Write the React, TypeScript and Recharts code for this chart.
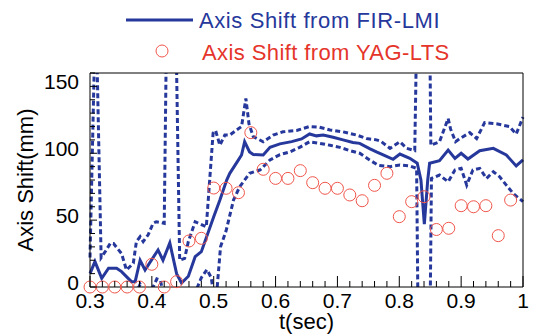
import {
  ComposedChart, Line, Scatter, XAxis, YAxis,
} from 'recharts';

// [t (sec), axis shift (mm)]
const firPoints: [number, number][] = [
  [0.300, 10], [0.308, 19], [0.319, 6.5], [0.330, 14], [0.343, 14], [0.351, 11.5],
  [0.367, 4], [0.373, 4], [0.381, 20], [0.389, 12.7], [0.410, 27.7], [0.418, 20],
  [0.429, 33], [0.440, 10], [0.448, 3], [0.459, 8], [0.470, 22.7], [0.480, 26.4],
  [0.500, 52.6], [0.510, 65], [0.521, 80], [0.526, 85], [0.540, 95], [0.545, 98.7],
  [0.550, 108.6], [0.558, 101], [0.564, 99], [0.580, 98.7], [0.591, 104.4], [0.607, 107],
  [0.626, 108.7], [0.642, 110.7], [0.655, 114.4], [0.666, 113], [0.677, 113.6], [0.693, 112],
  [0.709, 110], [0.725, 108], [0.736, 107.4], [0.752, 103.5], [0.763, 101], [0.774, 98.7],
  [0.790, 95.5], [0.801, 99.4], [0.817, 96.2], [0.829, 92.5], [0.835, 80], [0.8405, 47],
  [0.846, 80], [0.849, 92.5], [0.865, 94.4], [0.879, 102.4], [0.890, 96.2], [0.900, 100],
  [0.911, 95.7], [0.930, 101.9], [0.952, 103.7], [0.973, 98.7], [0.989, 90.5], [1.000, 95],
];

const firUpper: [number, number][] = [
  [0.300, 22], [0.3093, 215], [0.318, 22], [0.324, 26], [0.333, 32.7], [0.338, 32.5],
  [0.351, 25], [0.359, 12.7], [0.370, 17.7], [0.375, 34], [0.381, 37.6], [0.386, 34],
  [0.394, 39], [0.402, 47.6], [0.407, 48.8], [0.420, 47.6], [0.428, 360], [0.433, 360],
  [0.445, 20], [0.453, 21.4], [0.459, 34], [0.470, 48.8], [0.476, 47.6], [0.488, 45],
  [0.499, 115], [0.503, 117], [0.510, 106], [0.518, 113.6], [0.526, 113.6], [0.537, 117.4],
  [0.545, 120], [0.552, 141], [0.557, 122], [0.564, 112.4], [0.580, 108.6], [0.596, 113.6],
  [0.612, 116], [0.634, 117], [0.655, 120], [0.671, 119.5], [0.688, 117.4], [0.709, 116],
  [0.731, 113.6], [0.747, 111], [0.763, 110], [0.770, 109], [0.785, 103.7], [0.801, 108.6],
  [0.812, 103.7], [0.825, 102], [0.832, 300], [0.847, 300], [0.851, 106], [0.865, 108.6],
  [0.879, 126], [0.883, 118], [0.891, 108.6], [0.898, 111], [0.914, 115.4], [0.925, 111],
  [0.938, 122.9], [0.957, 122], [0.978, 120], [0.989, 114.4], [1.000, 127],
];

const firLower: [number, number][] = [
  [0.300, -3], [0.309, -15], [0.318, -10], [0.333, -5], [0.351, -3], [0.367, -8],
  [0.377, -2], [0.381, 2], [0.386, -3], [0.397, -5], [0.408, 6], [0.414, 5],
  [0.420, -10], [0.430, -20], [0.445, -15], [0.460, -10], [0.472, -2], [0.480, 7],
  [0.489, 13], [0.496, 7], [0.503, -15], [0.511, 30], [0.520, 42], [0.532, 65],
  [0.542, 75], [0.558, 85], [0.575, 87.5], [0.591, 95], [0.607, 99], [0.623, 101],
  [0.639, 104.4], [0.655, 108.6], [0.671, 107.4], [0.688, 106], [0.704, 104.4], [0.720, 102],
  [0.736, 100], [0.752, 95], [0.766, 91], [0.785, 90], [0.801, 91.2], [0.817, 90.5],
  [0.828, 88.7], [0.833, -150], [0.847, -150], [0.852, 81.2], [0.865, 83.7], [0.879, 78.7],
  [0.890, 87.5], [0.900, 88.7], [0.909, 76.2], [0.919, 87.5], [0.930, 88.7], [0.941, 81.2],
  [0.952, 86.2], [0.962, 82.5], [0.973, 76.2], [0.984, 70], [1.000, 63.8],
];

const yagPoints: [number, number][] = [
  [0.30, 0], [0.32, 0], [0.34, 0], [0.36, 0], [0.38, 0], [0.40, 17], [0.42, 0],
  [0.44, 4], [0.46, 34.4], [0.48, 36.4], [0.50, 74], [0.52, 73.8], [0.54, 70.5],
  [0.56, 115.4], [0.58, 88], [0.60, 81.2], [0.62, 81.2], [0.64, 87], [0.66, 78],
  [0.68, 73.8], [0.70, 73.8], [0.72, 68.8], [0.74, 64.5], [0.76, 76], [0.78, 85],
  [0.80, 52.6], [0.82, 63.8], [0.84, 67.5], [0.86, 43], [0.88, 43.9], [0.90, 60.8],
  [0.92, 60], [0.94, 60.8], [0.96, 38.4], [0.98, 65],
];

const xTicks = Array.from({ length: 36 }, (_, i) => Math.round((0.3 + i * 0.02) * 100) / 100);
const yTicks = Array.from({ length: 17 }, (_, i) => i * 10);

const BLUE = '#26389b';
const RED_MARK = '#f0564b';
const RED_TEXT = '#e5352b';
const FONT = "'Liberation Sans', Arial, sans-serif";

const toRows = (pts: [number, number][]) => pts.map(([t, v]) => ({ t, v }));

const isMajorX = (v: number) => Math.abs(v * 10 - Math.round(v * 10)) < 1e-6;
const isMajorY = (v: number) => v % 50 === 0;

function BottomTick({ x, y, payload }: any) {
  const major = isMajorX(payload.value);
  return (
    <g>
      <line x1={x} y1={y} x2={x} y2={y - (major ? 11 : 6)} stroke="#000" />
      {major && (
        <text x={x} y={y + 21} textAnchor="middle" fontSize={21} fontFamily={FONT} fill="#000">
          {String(payload.value)}
        </text>
      )}
    </g>
  );
}

function TopTick({ x, y, payload }: any) {
  const major = isMajorX(payload.value);
  return <line x1={x} y1={y} x2={x} y2={y + (major ? 11 : 6)} stroke="#000" />;
}

function LeftTick({ x, y, payload }: any) {
  const major = isMajorY(payload.value);
  return (
    <g>
      <line x1={x} y1={y} x2={x + (major ? 7 : 5)} y2={y} stroke="#000" />
      {major && (
        <text x={x - 11} y={y + 3} textAnchor="end" fontSize={21} fontFamily={FONT} fill="#000">
          {String(payload.value)}
        </text>
      )}
    </g>
  );
}

function RightTick({ x, y, payload }: any) {
  const major = isMajorY(payload.value);
  return <line x1={x} y1={y} x2={x - (major ? 7 : 5)} y2={y} stroke="#000" />;
}

const ring = (props: any) => (
  <circle cx={props.cx} cy={props.cy} r={6} fill="none" stroke={RED_MARK} strokeWidth={1} />
);

export default function App() {
  return (
    <div style={{ position: 'absolute', left: 0, top: 0, width: 533, height: 335, background: '#fff' }}>
      <ComposedChart width={533} height={335} margin={{ top: 72, right: 9, bottom: 0, left: 0 }}>
        <XAxis
          dataKey="t" type="number" domain={[0.3, 1]} ticks={xTicks} interval={0}
          height={48} tickSize={0} tickMargin={0} tickLine={false} tick={BottomTick}
          axisLine={{ stroke: '#000' }}
          label={{ value: 't(sec)', position: 'insideBottom', offset: 6, fontSize: 22, fill: '#000', fontFamily: FONT }}
        />
        <XAxis
          xAxisId="top" orientation="top" dataKey="t" type="number" domain={[0.3, 1]}
          ticks={xTicks} interval={0} height={1} tickSize={0} tickMargin={0} tickLine={false}
          tick={TopTick} axisLine={{ stroke: '#000' }}
        />
        <YAxis
          type="number" domain={[0, 160]} allowDataOverflow ticks={yTicks} interval={0}
          width={90} tickSize={0} tickMargin={0} tickLine={false} tick={LeftTick}
          axisLine={{ stroke: '#000' }}
          label={{ value: 'Axis Shift(mm)', angle: -90, position: 'center', dx: -20, fontSize: 22, fill: '#000', fontFamily: FONT }}
        />
        <YAxis
          yAxisId="right" orientation="right" type="number" domain={[0, 160]} ticks={yTicks}
          interval={0} width={1} tickSize={0} tickMargin={0} tickLine={false} tick={RightTick}
          axisLine={{ stroke: '#000' }}
        />
        <YAxis yAxisId="free" dataKey="v" type="number" domain={[0, 160]} hide />
        <Line
          data={toRows(firUpper)} dataKey="v" type="linear" stroke={BLUE} strokeWidth={3}
          strokeDasharray="5 3" dot={false} activeDot={false} isAnimationActive={false}
        />
        <Line
          data={toRows(firLower)} dataKey="v" type="linear" stroke={BLUE} strokeWidth={3}
          strokeDasharray="5 3" dot={false} activeDot={false} isAnimationActive={false}
        />
        <Line
          data={toRows(firPoints)} dataKey="v" type="linear" stroke={BLUE} strokeWidth={3}
          dot={false} activeDot={false} isAnimationActive={false}
        />
        <Scatter
          data={toRows(yagPoints)} dataKey="v" yAxisId="free" shape={ring}
          isAnimationActive={false}
        />
      </ComposedChart>
      <svg
        width={533} height={70}
        style={{ position: 'absolute', left: 0, top: 0, pointerEvents: 'none' }}
        fontFamily={FONT} fontSize={22}
      >
        <line x1={126} y1={20} x2={193} y2={20} stroke={BLUE} strokeWidth={3} />
        <text x={199} y={28} fill={BLUE} letterSpacing={0.6}>Axis Shift from FIR-LMI</text>
        <circle cx={162} cy={51} r={6} fill="none" stroke={RED_MARK} strokeWidth={1} />
        <text x={202} y={60} fill={RED_TEXT} letterSpacing={0.4}>Axis Shift from YAG-LTS</text>
      </svg>
    </div>
  );
}
